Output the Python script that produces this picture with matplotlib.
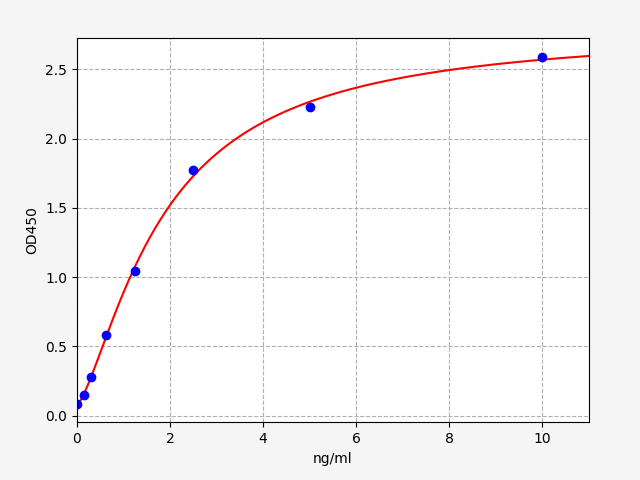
import numpy as np
import matplotlib
matplotlib.use("Agg")
import matplotlib.pyplot as plt

# standard points
conc = [0, 0.156, 0.3125, 0.625, 1.25, 2.5, 5, 10]
od450 = [0.086, 0.151, 0.281, 0.584, 1.045, 1.772, 2.226, 2.587]


def four_pl(x, p):
    a, b, c, d = p
    return d + (a - d) / (1 + (np.abs(x) / c) ** b)


def fit_4pl(x, y, p0, n_iter=200):
    # small Levenberg-Marquardt with numeric jacobian
    p = np.array(p0, dtype=float)
    lam = 1e-3
    for _ in range(n_iter):
        r = y - four_pl(x, p)
        J = np.zeros((len(x), len(p)))
        for k in range(len(p)):
            dp = np.zeros_like(p)
            dp[k] = 1e-6 * max(abs(p[k]), 1e-3)
            J[:, k] = (four_pl(x, p + dp) - four_pl(x, p - dp)) / (2 * dp[k])
        A = J.T @ J
        g = J.T @ r
        step = np.linalg.solve(A + lam * np.diag(np.diag(A)), g)
        p_new = p + step
        if p_new[2] > 0 and np.sum((y - four_pl(x, p_new)) ** 2) < np.sum(r ** 2):
            p = p_new
            lam *= 0.3
        else:
            lam *= 10
    return p


x = np.array(conc)
y = np.array(od450)
params = fit_4pl(x, y, [0.08, 1.3, 1.9, 2.85])

xs = np.linspace(0, 11, 400)

fig, ax = plt.subplots(figsize=(6.4, 4.8), dpi=100)
fig.patch.set_facecolor("#f5f5f5")
fig.subplots_adjust(left=0.12, right=0.92, bottom=0.12, top=0.92)
ax.plot(xs, four_pl(xs, params), color="red")
ax.plot(x, y, "o", color="blue")
ax.set_xlim(0, 11)
ax.set_ylim(-0.048, 2.724)
ax.set_xlabel("ng/ml")
ax.set_ylabel("OD450")
ax.grid(True, linestyle="--")
plt.savefig("out.png")
